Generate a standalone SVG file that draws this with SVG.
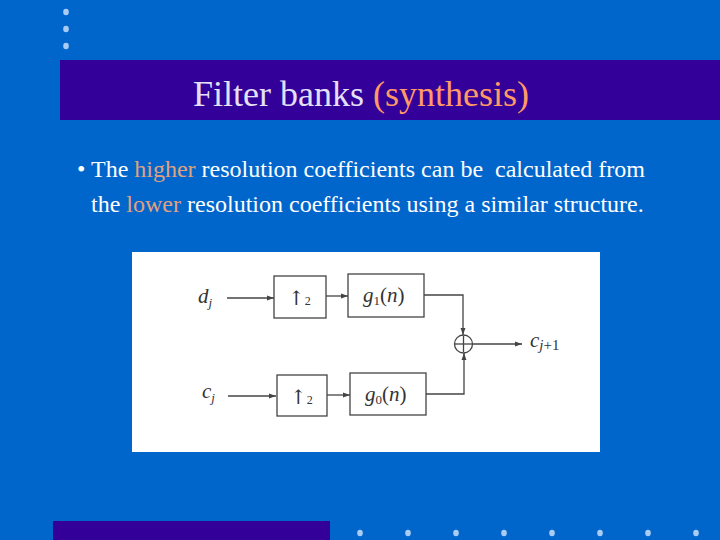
<svg xmlns="http://www.w3.org/2000/svg" width="720" height="540" viewBox="0 0 720 540">
<defs>
<style>
.dot{fill:#a8ccf4}
.t{font-family:"Liberation Serif","Times New Roman",serif}
.m{font-family:"Liberation Serif","Times New Roman",serif;font-style:italic;fill:#333;font-size:21px}
.sub{font-size:13px}
.up{font-family:"DejaVu Serif",serif;font-size:20px;fill:#333}
.box{fill:#fff;stroke:#444;stroke-width:1.3}
.ln{fill:none;stroke:#444;stroke-width:1.3}
</style>
<marker id="ah" viewBox="0 0 10 10" refX="10" refY="5" markerWidth="7" markerHeight="7" markerUnits="userSpaceOnUse" orient="auto">
<path d="M0,1.5 L10,5 L0,8.5 Z" fill="#444"/>
</marker>
</defs>
<rect width="720" height="540" fill="#0066cc"/>
<g id="top-dots">
<ellipse class="dot" cx="66" cy="12" rx="2.8" ry="3.2"/>
<ellipse class="dot" cx="66" cy="29" rx="2.8" ry="3.2"/>
<ellipse class="dot" cx="66" cy="46" rx="2.8" ry="3.2"/>
</g>
<rect x="60" y="60" width="660" height="60" fill="#330099"/>
<text class="t" x="193" y="106" font-size="36" fill="#e4e0f8">Filter banks <tspan fill="#ff9966">(synthesis)</tspan></text>
<text class="t" x="77" y="177" font-size="24" fill="#ffffff" xml:space="preserve">• The <tspan fill="#e0a27e">higher</tspan> resolution coefficients can be  calculated from</text>
<text class="t" x="91" y="212" font-size="24" fill="#ffffff">the <tspan fill="#e0a27e">lower</tspan> resolution coefficients using a similar structure.</text>
<rect x="132" y="252" width="468" height="200" fill="#ffffff"/>
<g id="connectors">
<line class="ln" x1="227" y1="298" x2="274" y2="298" marker-end="url(#ah)"/>
<line class="ln" x1="326" y1="296" x2="348" y2="296" marker-end="url(#ah)"/>
<polyline class="ln" points="424,295 463,295 463,335" marker-end="url(#ah)"/>
<line class="ln" x1="473" y1="344" x2="522" y2="344" marker-end="url(#ah)"/>
<line class="ln" x1="228" y1="396" x2="276" y2="396" marker-end="url(#ah)"/>
<line class="ln" x1="327" y1="395" x2="350" y2="395" marker-end="url(#ah)"/>
<polyline class="ln" points="426,394 464,394 464,353" marker-end="url(#ah)"/>
</g>
<g id="label-dj"><text class="m" x="198" y="303">d<tspan class="sub" dy="4">j</tspan></text></g>
<g id="up2-top">
<rect class="box" x="274" y="276" width="52" height="42"/>
<text class="up" x="288" y="305">↑<tspan font-size="12" font-family="Liberation Serif" dy="0">2</tspan></text>
</g>
<g id="g1">
<rect class="box" x="348" y="274" width="76" height="43"/>
<text class="m" x="363" y="302">g<tspan class="sub" font-style="normal" dy="3">1</tspan><tspan font-style="normal" dy="-3">(</tspan>n<tspan font-style="normal">)</tspan></text>
</g>
<g id="sum">
<circle cx="463.5" cy="344" r="9" fill="#fff" stroke="#444" stroke-width="1.3"/>
<line class="ln" x1="455" y1="344" x2="472" y2="344"/>
<line class="ln" x1="463.5" y1="336" x2="463.5" y2="352"/>
</g>
<g id="label-cj1"><text class="m" x="530" y="347" font-size="22">c<tspan font-size="15" dy="3">j<tspan font-style="normal">+1</tspan></tspan></text></g>
<g id="label-cj"><text class="m" x="202" y="398">c<tspan class="sub" dy="4">j</tspan></text></g>
<g id="up2-bottom">
<rect class="box" x="277" y="375" width="50" height="41"/>
<text class="up" x="290" y="404">↑<tspan font-size="12" font-family="Liberation Serif" dy="0">2</tspan></text>
</g>
<g id="g0">
<rect class="box" x="350" y="373" width="76" height="42"/>
<text class="m" x="365" y="401">g<tspan class="sub" font-style="normal" dy="3">0</tspan><tspan font-style="normal" dy="-3">(</tspan>n<tspan font-style="normal">)</tspan></text>
</g>
<rect x="53" y="521" width="277" height="19" fill="#330099"/>
<g id="bottom-dots">
<ellipse class="dot" cx="360" cy="533" rx="2.8" ry="3.2"/>
<ellipse class="dot" cx="408" cy="533" rx="2.8" ry="3.2"/>
<ellipse class="dot" cx="456" cy="533" rx="2.8" ry="3.2"/>
<ellipse class="dot" cx="504" cy="533" rx="2.8" ry="3.2"/>
<ellipse class="dot" cx="552" cy="533" rx="2.8" ry="3.2"/>
<ellipse class="dot" cx="600" cy="533" rx="2.8" ry="3.2"/>
<ellipse class="dot" cx="648" cy="533" rx="2.8" ry="3.2"/>
<ellipse class="dot" cx="696" cy="533" rx="2.8" ry="3.2"/>
</g>
</svg>
